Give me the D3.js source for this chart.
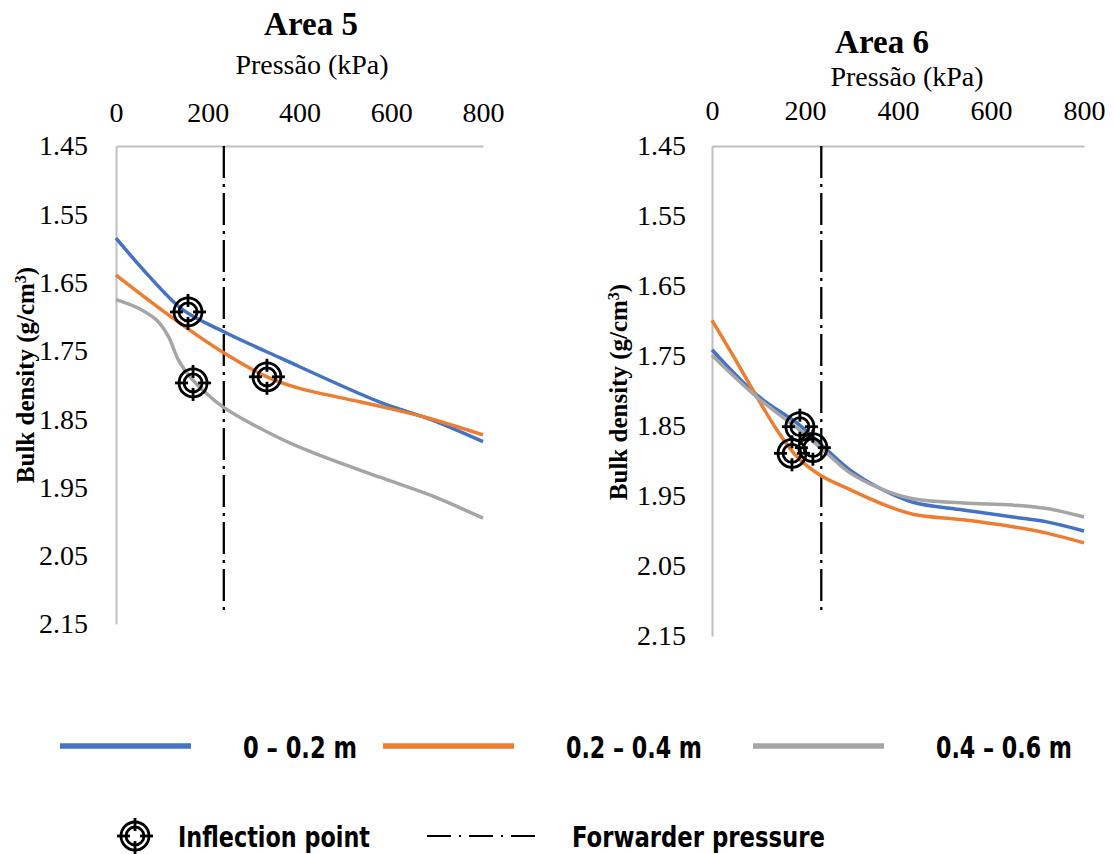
<!DOCTYPE html>
<html>
<head>
<meta charset="utf-8">
<script src="https://cdn.jsdelivr.net/npm/d3@7"></script>
<style>
  body { margin: 0; background: #fff; }
  svg text { fill: #000; }
  .serif { font-family: "Liberation Serif", "Times New Roman", serif; }
  .legend text { font-family: "DejaVu Sans Condensed", "DejaVu Sans", sans-serif; font-weight: bold; }
</style>
</head>
<body>
<div id="chart"></div>
<script>
/* * * * * * * * * * * * * *
*   compaction curves      *
* * * * * * * * * * * * * */

// axis ticks
const pressureTicks = [0, 200, 400, 600, 800];
const densityTicks = [1.45, 1.55, 1.65, 1.75, 1.85, 1.95, 2.05, 2.15];

// soil layers
const layers = ["0 – 0.2 m", "0.2 – 0.4 m", "0.4 – 0.6 m"];

// Area 5 curves: [pressure kPa, bulk density g/cm3]
const area5Layer1 = [[0, 1.585], [74, 1.642], [146, 1.690], [235, 1.722], [357, 1.760], [575, 1.825], [684, 1.850], [800, 1.883]];
const area5Layer2 = [[0, 1.639], [124, 1.702], [233, 1.752], [329, 1.788], [400, 1.805], [500, 1.820], [600, 1.835], [684, 1.849], [800, 1.873]];
const area5Layer3 = [[0, 1.675], [50, 1.688], [90, 1.706], [115, 1.730], [135, 1.762], [160, 1.787], [190, 1.808], [233, 1.832], [357, 1.878], [429, 1.899], [575, 1.935], [684, 1.961], [800, 1.995]];
const area5Inflection = [[157, 1.693], [168, 1.797], [329, 1.788]];

// Area 6 curves
const area6Layer1 = [[0, 1.741], [97, 1.806], [189, 1.849], [247, 1.884], [297, 1.913], [361, 1.939], [432, 1.959], [540, 1.970], [647, 1.980], [720, 1.987], [800, 2.000]];
const area6Layer2 = [[0, 1.699], [45, 1.749], [97, 1.809], [140, 1.856], [183, 1.894], [232, 1.920], [297, 1.941], [361, 1.960], [432, 1.976], [540, 1.984], [647, 1.994], [720, 2.003], [800, 2.017]];
const area6Layer3 = [[0, 1.749], [97, 1.809], [189, 1.856], [247, 1.889], [297, 1.917], [361, 1.939], [432, 1.954], [540, 1.960], [647, 1.963], [720, 1.968], [800, 1.980]];
const area6Inflection = [[189, 1.851], [172, 1.889], [217, 1.881]];

// forwarder pressure (kPa)
const forwarderPressure = 235;

const colors = ["#4472c4", "#ed7d31", "#a5a5a5"];

const svg = d3.select("#chart").append("svg")
    .attr("width", 1113)
    .attr("height", 854);

// draws the inflection point marker (double circle + crosshair)
function drawMarker(g, cx, cy) {
    let m = g.append("g").attr("transform", "translate(" + cx + "," + cy + ")")
        .attr("fill", "none").attr("stroke", "#000").attr("stroke-width", 2.8);
    m.append("circle").attr("r", 14);
    m.append("circle").attr("r", 9);
    [[0, -1], [0, 1], [-1, 0], [1, 0]].forEach(d => {
        m.append("line")
            .attr("x1", d[0] * 5).attr("y1", d[1] * 5)
            .attr("x2", d[0] * 18).attr("y2", d[1] * 18);
    });
}

function drawPanel(p) {
    let x = d3.scaleLinear().domain([0, 800]).range([p.left, p.right]);
    let y = d3.scaleLinear().domain([1.45, 2.15]).range([p.top, p.bottom]);

    let g = svg.append("g");

    // titles
    g.append("text").attr("class", "serif")
        .attr("x", p.titleX).attr("y", p.titleY)
        .attr("text-anchor", "middle")
        .style("font-size", "33px").style("font-weight", "bold")
        .text(p.title);
    g.append("text").attr("class", "serif")
        .attr("x", p.subX).attr("y", p.subY)
        .attr("text-anchor", "middle")
        .style("font-size", "28px")
        .text("Pressão (kPa)");

    // axes
    let xAxis = d3.axisTop(x).tickValues(pressureTicks).tickSize(0).tickPadding(p.xPad);
    let yAxis = d3.axisLeft(y).tickValues(densityTicks).tickSize(0).tickPadding(p.yPad)
        .tickFormat(d3.format(".2f"));

    let gx = g.append("g").attr("transform", "translate(0," + p.top + ")").call(xAxis);
    let gy = g.append("g").attr("transform", "translate(" + p.left + ",0)").call(yAxis);
    [gx, gy].forEach(a => {
        a.select(".domain").attr("stroke", "#bfbfbf").attr("stroke-width", 2);
        a.selectAll("text").attr("class", "serif").style("font-size", "28px").attr("fill", "#000");
    });

    // y label
    g.append("text").attr("class", "serif")
        .attr("transform", "translate(" + p.yLabelX + "," + p.yLabelY + ") rotate(-90)")
        .attr("text-anchor", "middle")
        .style("font-size", "25px").style("font-weight", "bold")
        .html("Bulk density (g/cm<tspan baseline-shift=\"super\" font-size=\"16px\">3</tspan>)");

    // forwarder pressure line
    g.append("line")
        .attr("x1", x(forwarderPressure)).attr("x2", x(forwarderPressure))
        .attr("y1", y(1.45)).attr("y2", y(p.fwdEnd))
        .attr("stroke", "#000").attr("stroke-width", 2.3)
        .attr("stroke-dasharray", "32,6,3,6");

    // curves
    let line = d3.line().x(d => x(d[0])).y(d => y(d[1])).curve(d3.curveCatmullRom.alpha(0.5));
    p.series.forEach((s, i) => {
        g.append("path").datum(s)
            .attr("d", line)
            .attr("fill", "none")
            .attr("stroke", colors[i])
            .attr("stroke-width", 3.5);
    });

    // inflection points
    p.inflection.forEach(d => drawMarker(g, x(d[0]), y(d[1])));
}

drawPanel({
    title: "Area 5", left: 116, right: 483, top: 146, bottom: 624,
    titleX: 311, titleY: 35, subX: 312, subY: 74, xPad: 24, yPad: 28,
    yLabelX: 34, yLabelY: 375, fwdEnd: 2.13,
    series: [area5Layer1, area5Layer2, area5Layer3], inflection: area5Inflection
});

drawPanel({
    title: "Area 6", left: 712, right: 1084, top: 146, bottom: 636,
    titleX: 882, titleY: 53, subX: 907, subY: 86, xPad: 26, yPad: 26,
    yLabelX: 627, yLabelY: 392, fwdEnd: 2.115,
    series: [area6Layer1, area6Layer2, area6Layer3], inflection: area6Inflection
});

// legend: soil layers
let legend = svg.append("g").attr("class", "legend");
let legendX = [60, 383, 753];
let legendTextWidth = [114, 136, 136];
layers.forEach((l, i) => {
    legend.append("line")
        .attr("x1", legendX[i]).attr("x2", legendX[i] + 131)
        .attr("y1", 746).attr("y2", 746)
        .attr("stroke", colors[i]).attr("stroke-width", 5.5);
    legend.append("text")
        .attr("x", legendX[i] + 183).attr("y", 758)
        .attr("textLength", legendTextWidth[i])
        .attr("lengthAdjust", "spacingAndGlyphs")
        .style("font-size", "31px")
        .text(l);
});

// legend: inflection point and forwarder pressure
drawMarker(legend, 135, 836);
legend.append("text").attr("x", 178).attr("y", 847)
    .attr("textLength", 192).attr("lengthAdjust", "spacingAndGlyphs")
    .style("font-size", "29px").text("Inflection point");
legend.append("line")
    .attr("x1", 427).attr("x2", 541).attr("y1", 836).attr("y2", 836)
    .attr("stroke", "#000").attr("stroke-width", 2)
    .attr("stroke-dasharray", "24,8,2,8");
legend.append("text").attr("x", 572).attr("y", 847)
    .attr("textLength", 253).attr("lengthAdjust", "spacingAndGlyphs")
    .style("font-size", "29px").text("Forwarder pressure");
</script>
</body>
</html>
